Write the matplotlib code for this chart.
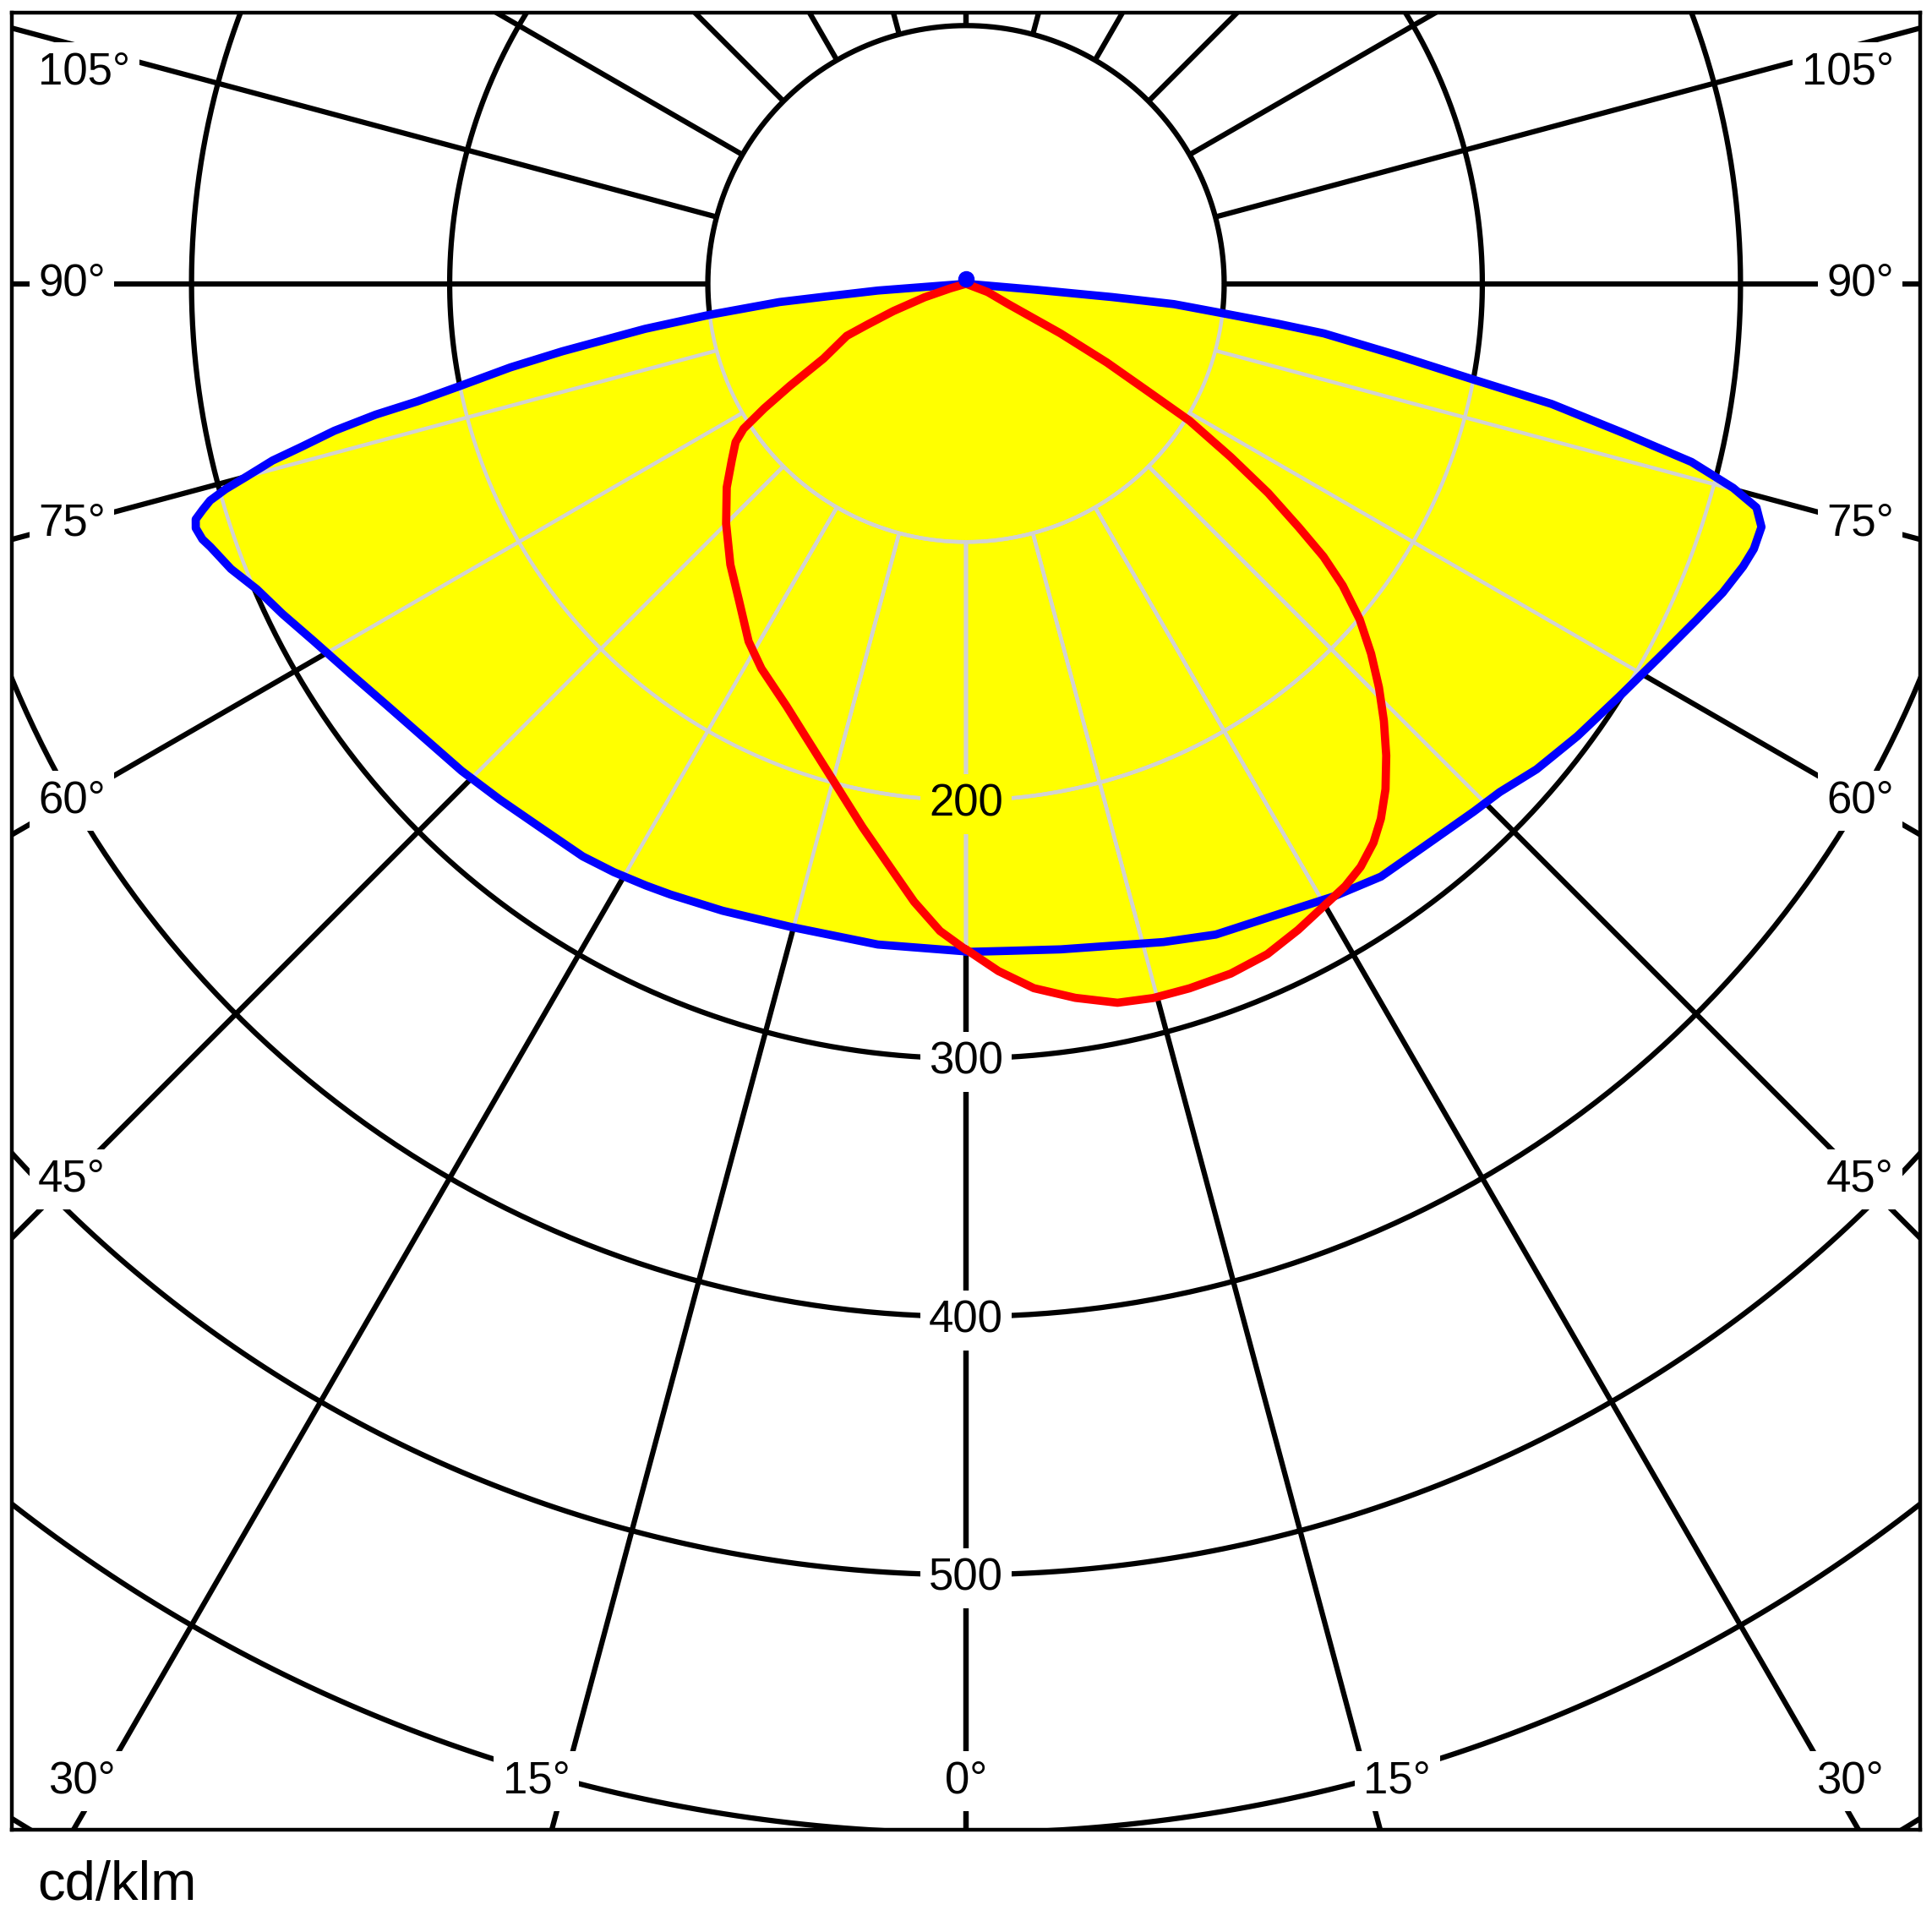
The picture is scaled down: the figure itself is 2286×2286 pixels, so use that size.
import numpy as np
import matplotlib.pyplot as plt
from matplotlib.patches import Polygon
from matplotlib.path import Path

# =====================================================
# DATA  (gamma = degrees from nadir, intensity in cd/klm)
# =====================================================

blue_left_gamma = [0, 7.6, 15.3, 21.2, 25.8, 28.0, 30.9, 33.8, 38.2, 42.1,
                   46.0, 50.2, 54.0, 57.7, 61.3, 64.2, 66.7, 68.8, 70.8,
                   71.5, 72.4, 73.0, 73.5, 74.0, 74.5, 75.0, 75.7, 76.2,
                   76.9, 77.5, 77.9, 78.6, 79.6, 80.5, 82.0, 83.1, 84.4,
                   84.8, 85.6, 90]
blue_left_cd = [258.6, 258.2, 258.2, 260.5, 262.8, 264.0, 265.6, 266.9,
                267.5, 269.3, 271.6, 274.0, 277.5, 282.3, 288.1, 294.0,
                299.1, 305.4, 309.9, 311.9, 313.0, 312.0, 308.4, 304.6,
                297.6, 288.5, 277.2, 265.3, 251.2, 234.2, 217.4, 199.5,
                179.4, 158.6, 125.6, 100.0, 72.6, 54.4, 34.2, 0]

blue_right_gamma = [0, 3.6, 8.1, 16.7, 21.0, 25.4, 31.0, 35.0, 39.0, 43.9,
                    46.4, 49.6, 53.5, 57.7, 61.8, 65.3, 67.8, 70.0, 71.4,
                    73.0, 74.2, 75.1, 76.2, 77.2, 78.4, 79.3, 80.6, 82.1,
                    82.7, 83.4, 84.4, 84.8, 85.1, 90]
blue_right_cd = [258.8, 258.9, 260.4, 266.2, 270.0, 271.9, 276.8, 280.3,
                 281.0, 283.7, 285.5, 290.2, 294.6, 299.3, 305.2, 311.5,
                 316.6, 320.3, 322.0, 322.2, 318.2, 307.5, 289.4, 261.4,
                 231.6, 200.3, 169.1, 140.0, 121.7, 101.3, 81.0, 56.8,
                 26.6, 0]

blue_up_gamma = 180
blue_up_cd = 2

red_left_gamma = [0, 2.3, 4.8, 7.0, 10.8, 15.3, 19.5, 23.0, 28.0, 31.3,
                  35.6, 40.0, 45.0, 49.6, 53.0, 55.5, 56.9, 58.3, 59.9,
                  62.3, 66.4, 67.5, 69.4, 71.9, 73.7, 90]
red_left_cd = [258.0, 250.9, 240.2, 229.7, 214.2, 198.1, 186.1, 177.8,
               168.8, 162.1, 151.0, 142.0, 131.4, 121.7, 113.6, 108.3,
               102.9, 91.9, 78.8, 62.3, 50.4, 41.3, 30.0, 16.9, 6.3, 0]

red_right_gamma = [0, 2.7, 5.5, 8.7, 11.9, 14.7, 17.6, 21.0, 24.2, 27.2,
                   30.5, 32.2, 34.1, 36.1, 37.8, 39.7, 41.7, 43.7, 45.65,
                   47.6, 49.55, 51.3, 52.65, 53.8, 55.3, 56.8, 58.5, 59.4,
                   60.8, 62.3, 62.9, 64.3, 69.1, 90]
red_right_cd = [257.8, 266.5, 274.1, 279.8, 284.6, 286.0, 286.3, 286.2,
                284.7, 281.4, 277.4, 275.7, 272.7, 267.9, 262.2, 254.4,
                244.7, 234.3, 223.7, 212.5, 200.4, 187.0, 174.2, 159.8,
                142.4, 122.6, 101.6, 82.0, 62.5, 41.2, 29.7, 18.2, 9.0, 0]

ring_values = [100, 200, 300, 400, 500, 600, 700]
ring_label_values = [200, 300, 400, 500]
spoke_angles = list(range(0, 181, 15))
side_label_angles = [105, 90, 75, 60, 45]
bottom_label_angles = [-30, -15, 0, 15, 30]

plt.rcParams["font.family"] = ["Liberation Sans", "DejaVu Sans"]


def to_xy(gamma, cd, side):
    g = np.radians(np.asarray(gamma, dtype=float))
    r = np.asarray(cd, dtype=float)
    return side * r * np.sin(g), -r * np.cos(g)


def closed_curve(lg, lc, rg, rc):
    xl, yl = to_xy(lg, lc, -1)
    xr, yr = to_xy(rg, rc, 1)
    x = np.concatenate([xl[::-1], xr])
    y = np.concatenate([yl[::-1], yr])
    return np.column_stack([x, y])


blue_xy = closed_curve(blue_left_gamma, blue_left_cd,
                       blue_right_gamma, blue_right_cd)
red_xy = closed_curve(red_left_gamma, red_left_cd,
                      red_right_gamma, red_right_cd)

# =====================================================
# FIGURE
# =====================================================

W = 2286
fig = plt.figure(figsize=(W / 100, W / 100), dpi=100)
ax = fig.add_axes([14 / W, 1 - 2165 / W, 2258 / W, 2150 / W])
ax.set_xlim(-369.6, 369.6)
ax.set_ylim(-598.8, 105.0)
ax.set_xticks([])
ax.set_yticks([])
for sp in ax.spines.values():
    sp.set_linewidth(3.2)
    sp.set_zorder(10)


def draw_grid(color, lw, zorder, clip=None):
    t = np.linspace(0, 2 * np.pi, 721)
    lines = []
    for r in ring_values:
        lines += ax.plot(r * np.cos(t), r * np.sin(t), color=color,
                         lw=lw, zorder=zorder, solid_capstyle="butt")
    rr = np.array([100, 900])
    for g in spoke_angles:
        for side in (-1, 1):
            x, y = to_xy([g, g], rr, side)
            lines += ax.plot(x, y, color=color, lw=lw, zorder=zorder,
                             solid_capstyle="butt")
    if clip is not None:
        for ln in lines:
            ln.set_clip_path(clip)


# black grid
draw_grid("black", 4.5, 1)

# yellow fill (union of both planes)
fills = []
for xy in (blue_xy, red_xy):
    p = Polygon(xy, closed=True, facecolor="#ffff00", edgecolor="none",
                zorder=3)
    ax.add_patch(p)
    fills.append(p)

# grey grid inside the fill
for p in fills:
    draw_grid("#d2d2d2", 3.2, 4, clip=p)

# curves
ax.plot(blue_xy[:, 0], blue_xy[:, 1], color="#0000ff", lw=7, zorder=6)
ax.plot(red_xy[:, 0], red_xy[:, 1], color="#ff0000", lw=7, zorder=7)
bx, by = to_xy([blue_up_gamma], [blue_up_cd], 1)
ax.plot(bx, by, "o", color="#0000ff", ms=13, zorder=8)

# =====================================================
# LABELS
# =====================================================

blue_path = Path(blue_xy)
red_path = Path(red_xy)
fs = 38

for v in ring_label_values:
    inside = blue_path.contains_point((0, -v)) or red_path.contains_point((0, -v))
    ax.text(0, -v - 1.5, str(v), ha="center", va="center", fontsize=fs,
            zorder=5,
            bbox=dict(boxstyle="square,pad=0.2",
                      fc="#ffff00" if inside else "white", ec="none"))

d = 347
for g in side_label_angles:
    g_r = np.radians(g)
    y = min(-d * np.cos(g_r) / np.sin(g_r), 82)
    for side, ha in ((-1, "left"), (1, "right")):
        ax.text(side * 359.4, y, f"{g}°", ha=ha, va="center", fontsize=fs,
                zorder=5, bbox=dict(boxstyle="square,pad=0.2", fc="white",
                                    ec="none"))

bottom_label_x = [-342.5, -166.5, 0, 167, 342.5]
for g, x in zip(bottom_label_angles, bottom_label_x):
    ax.text(x, -580, f"{abs(g)}°", ha="center", va="center", fontsize=fs,
            zorder=5, bbox=dict(boxstyle="square,pad=0.2", fc="white",
                                ec="none"))

fig.text(44 / W, 1 - 2231 / W, "cd/klm", ha="left", va="center", fontsize=47)

fig.savefig("out.png", dpi=100)
